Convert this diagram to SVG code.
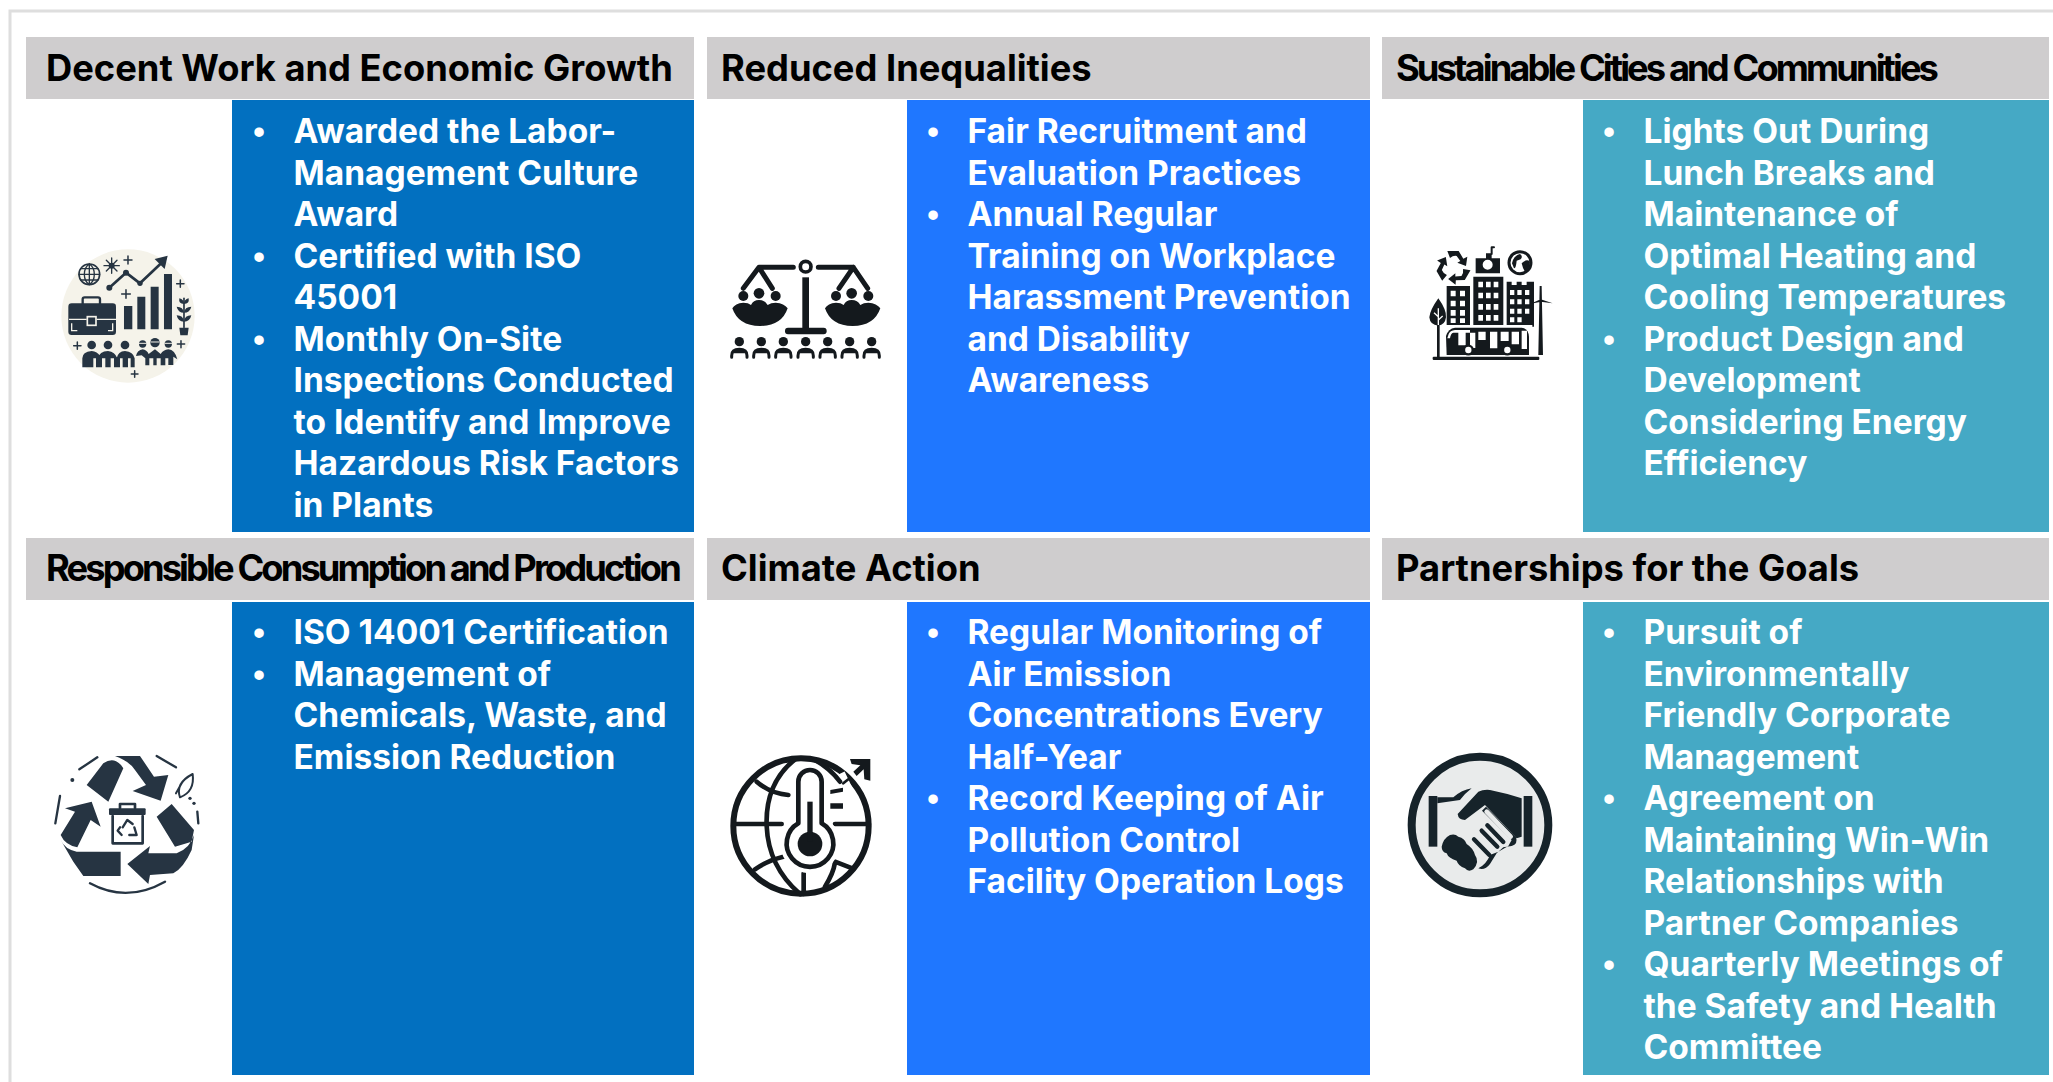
<svg xmlns="http://www.w3.org/2000/svg" width="2053" height="1082" viewBox="0 0 2053 1082">
<style>
.hd{fill:#cfcdce}
.h{font-family:Inter,"Noto Sans",sans-serif;font-weight:700;font-size:36.3px;fill:#000}
.tight{letter-spacing:-2.9px}
.b{font-family:Inter,"Noto Sans",sans-serif;font-weight:700;font-size:33.5px;fill:#fff}
.u{font-family:"Liberation Sans",sans-serif;font-weight:700;font-size:33px;fill:#fff;text-anchor:middle}
.c1{fill:#0270c0}.c2{fill:#1f77ff}.c3{fill:#45a9c5}
.d{fill:#263442}.s{fill:none;stroke:#263442;stroke-linecap:round;stroke-linejoin:round}
.k{fill:#14191d}.t{fill:none;stroke:#14191d;stroke-linecap:round;stroke-linejoin:round}
</style>
<rect width="2053" height="1082" fill="#fff"/>
<path d="M2053 11H10V1082" fill="none" stroke="#dedede" stroke-width="3"/>

<g id="decent-work">
<rect class="hd" x="26" y="37" width="668" height="62"/>
<rect class="c1" x="232" y="100" width="462" height="432"/>
<text class="h" x="46" y="81">Decent Work and Economic Growth</text>
<text class="u" x="259" y="142.500">•</text>
<text class="b"><tspan x="293.500" y="142.500">Awarded the Labor-</tspan><tspan x="293.500" y="184.500">Management Culture</tspan><tspan x="293.500" y="226">Award</tspan></text>
<text class="u" x="259" y="267.500">•</text>
<text class="b"><tspan x="293.500" y="267.500">Certified with ISO</tspan><tspan x="293.500" y="309">45001</tspan></text>
<text class="u" x="259" y="350.500">•</text>
<text class="b"><tspan x="293.500" y="350.500">Monthly On-Site</tspan><tspan x="293.500" y="392">Inspections Conducted</tspan><tspan x="293.500" y="433.500">to Identify and Improve</tspan><tspan x="293.500" y="475">Hazardous Risk Factors</tspan><tspan x="293.500" y="516.500">in Plants</tspan></text>
<g transform="translate(40 230) scale(.3333)">
<circle cx="264" cy="258" r="200" fill="#f5f3ea"/>
<circle class="s" cx="148" cy="133" r="31" stroke-width="5"/>
<path class="s" stroke-width="4" d="M148 102V164M117 133H179M122 116H174M122 150H174M148 102C128 115 128 151 148 164M148 102C168 115 168 151 148 164"/>
<circle class="d" cx="215" cy="107" r="9"/>
<path class="s" stroke-width="4" d="M215 84V130M192 107H238M199 91L231 123M231 91L199 123"/>
<path class="s" stroke-width="4.500" d="M264 78V102M252 90H276M258 179V205M245 192H271M421 150V172M410 161H432M112 336V358M101 347H123M423 332V353M412 342H434M284 422V442M274 432H294"/>
<path class="s" stroke-width="8" d="M208 173L258 128L300 160L365 98"/>
<circle class="d" cx="208" cy="173" r="9"/><circle class="d" cx="258" cy="128" r="9"/><circle class="d" cx="300" cy="160" r="8"/>
<path class="d" d="M383 77L374 117L344 87Z"/>
<path class="d" d="M252 228h25v70h-25zM292 200h24v98h-24zM332 170h24v128h-24zM372 132h24v166h-24z"/>
<path class="s" stroke-width="7" d="M128 222V208Q128 202 134 202H174Q180 202 180 208V222"/>
<rect class="d" x="85" y="220" width="143" height="95" rx="10"/>
<path fill="none" stroke="#f5f3ea" stroke-width="4" d="M87 268H140M170 268H228M95 280V302H112M218 280V302H204"/>
<rect x="142" y="260" width="26" height="26" fill="#263442" stroke="#f5f3ea" stroke-width="5"/>
<path class="s" stroke-width="5" d="M432 292V205"/>
<path class="d" d="M432 222Q415 222 418 205Q432 208 432 222ZM432 222Q449 222 446 205Q432 208 432 222ZM432 248Q414 248 410 230Q430 230 432 248ZM432 248Q450 248 454 230Q434 230 432 248ZM432 275Q414 275 410 256Q430 256 432 275ZM432 275Q450 275 454 256Q434 256 432 275ZM418 293H446L443 316H421Z"/>
<circle class="d" cx="155" cy="345" r="13"/><circle class="d" cx="204" cy="345" r="13"/><circle class="d" cx="255" cy="345" r="13"/>
<path class="d" d="M127 412V385Q127 365 155 363Q172 365 180 378V412H168V385H160V412ZM174 412V385Q178 364 204 363Q225 365 232 385V412H222V385H212V412H196V385H186V412ZM230 412V385Q234 364 255 363Q280 365 284 385V412H272V385H264V412H248V385H240V412Z"/>
<circle class="d" cx="308" cy="342" r="11"/><circle class="d" cx="345" cy="338" r="14"/><circle class="d" cx="385" cy="342" r="11"/>
<path class="d" d="M288 378Q292 360 308 358Q320 360 326 372L345 358L362 372Q370 360 385 358Q405 360 412 388L400 380V405H385V385H376V406H362V385H350V406H340V385H328V406H316V385L305 376Z"/>
<path fill="none" stroke="#f5f3ea" stroke-width="3" d="M296 340H320M332 336H358M374 340H396"/>
</g>
</g>

<g id="reduced-inequalities">
<rect class="hd" x="707" y="37" width="663" height="62"/>
<rect class="c2" x="907" y="100" width="463" height="432"/>
<text class="h" x="721" y="81">Reduced Inequalities</text>
<text class="u" x="933" y="142.500">•</text>
<text class="b"><tspan x="967.500" y="142.500">Fair Recruitment and</tspan><tspan x="967.500" y="184.500">Evaluation Practices</tspan></text>
<text class="u" x="933" y="226">•</text>
<text class="b"><tspan x="967.500" y="226">Annual Regular</tspan><tspan x="967.500" y="267.500">Training on Workplace</tspan><tspan x="967.500" y="309">Harassment Prevention</tspan><tspan x="967.500" y="350.500">and Disability</tspan><tspan x="967.500" y="392">Awareness</tspan></text>
<g transform="translate(715 240) scale(.3333)">
<path class="t" stroke-width="15" stroke-linecap="butt" d="M235 82H132L85 145M132 82L172 145M310 82H415L372 145M415 82L458 145"/>
<circle class="t" cx="272" cy="80" r="16" stroke-width="11"/>
<rect class="k" x="262" y="112" width="20" height="155"/>
<rect class="k" x="210" y="263" width="125" height="20" rx="9"/>
<g id="pan">
<circle class="k" cx="85" cy="168" r="15"/><circle class="k" cx="132" cy="160" r="16"/><circle class="k" cx="182" cy="168" r="15"/>
<path class="k" d="M52 205Q60 190 85 188Q100 188 108 195Q115 180 132 180Q150 180 158 195Q168 188 182 188Q208 190 218 205Q200 258 135 258Q70 258 52 205Z"/>
</g>
<use href="#pan" x="278"/>
<g id="per"><circle class="k" cx="73" cy="305" r="14"/><path class="t" stroke-width="9" stroke-linecap="butt" d="M50 352V347Q50 328 73 328Q96 328 96 347V352"/><path class="k" d="M55 340Q60 325 73 325Q86 325 91 340Z"/></g>
<use href="#per" x="66"/><use href="#per" x="132"/><use href="#per" x="199"/><use href="#per" x="265"/><use href="#per" x="331"/><use href="#per" x="397"/>
</g>
</g>

<g id="sustainable-cities">
<rect class="hd" x="1382" y="37" width="667" height="62"/>
<rect class="c3" x="1583" y="100" width="466" height="432"/>
<text class="h tight" x="1396" y="81">Sustainable Cities and Communities</text>
<text class="u" x="1609" y="142.500">•</text>
<text class="b"><tspan x="1643.500" y="142.500">Lights Out During</tspan><tspan x="1643.500" y="184.500">Lunch Breaks and</tspan><tspan x="1643.500" y="226">Maintenance of</tspan><tspan x="1643.500" y="267.500">Optimal Heating and</tspan><tspan x="1643.500" y="309">Cooling Temperatures</tspan></text>
<text class="u" x="1609" y="350.500">•</text>
<text class="b"><tspan x="1643.500" y="350.500">Product Design and</tspan><tspan x="1643.500" y="392">Development</tspan><tspan x="1643.500" y="433.500">Considering Energy</tspan><tspan x="1643.500" y="475">Efficiency</tspan></text>
<g transform="translate(1410 230) scale(.3333)">
<path id="arrow3" class="k" d="M112 63H146L160 86L172 80L168 108L142 98L151 93L140 78Q130 76 120 84Z"/>
<use href="#arrow3" transform="rotate(120 130 112)"/>
<use href="#arrow3" transform="rotate(240 130 112)"/>
<path class="k" fill-rule="evenodd" d="M197 85H228V70H245V85H270V130H197ZM233 89A15 15 0 1 0 233 119A15 15 0 1 0 233 89Z"/>
<path class="t" stroke-width="6" d="M245 72V52H252"/>
<circle cx="330" cy="98" r="33" fill="#fff" stroke="#14191d" stroke-width="9"/>
<path class="k" d="M306 100Q310 78 330 72Q340 78 332 88L320 92Q318 115 312 115ZM335 100Q350 85 360 95Q360 115 345 125Q338 115 335 100Z"/>
<path class="k" d="M190 140H280V285H190ZM110 168H180V290H110ZM290 155H305V165H320V155H335V165H350V155H372V290H290Z"/>
<path fill="#fff" d="M205 155h14v17h-14zM228 155h14v17h-14zM251 155h14v17h-14zM205 188h14v17h-14zM228 188h14v17h-14zM251 188h14v17h-14zM205 222h14v17h-14zM228 222h14v17h-14zM251 222h14v17h-14zM205 255h14v17h-14zM228 255h14v17h-14zM251 255h14v17h-14zM122 182h15v17h-15zM150 182h15v17h-15zM122 212h15v17h-15zM150 212h15v17h-15zM122 240h15v17h-15zM150 240h15v17h-15zM122 265h15v14h-15zM150 265h15v14h-15zM300 180h13v15h-13zM322 180h13v15h-13zM345 180h13v15h-13zM300 208h13v15h-13zM322 208h13v15h-13zM345 208h13v15h-13zM300 236h13v15h-13zM322 236h13v15h-13zM345 236h13v15h-13zM300 262h13v15h-13zM322 262h13v15h-13z"/>
<path class="k" d="M85 205Q110 240 108 262Q105 285 85 287Q60 285 58 262Q60 240 85 205ZM81 285H89V382H81Z"/>
<path fill="none" stroke="#fff" stroke-width="4" d="M85 235V285M85 260L72 248M85 270L98 258"/>
<path class="k" d="M389 168H395L399 375H385ZM392 215L360 222L392 208L428 220Z"/>
<rect x="105" y="285" width="262" height="90" fill="#fff"/>
<path class="k" d="M108 318Q115 295 135 293H335Q355 295 357 320V375H110Z"/>
<path fill="#fff" d="M116 312Q120 302 135 300H180V308H130Q122 310 120 325H112ZM145 308h22v38h-22zM180 308h16v46h-16zM205 305h22v25h-22zM240 305h22v50h-22zM272 305h24v28h-24zM305 305h22v38h-22zM335 302h16v55h-16z"/>
<circle cx="175" cy="360" r="13" fill="#fff" stroke="#14191d" stroke-width="7"/>
<circle cx="292" cy="360" r="13" fill="#fff" stroke="#14191d" stroke-width="7"/>
<rect class="k" x="68" y="380" width="320" height="10" rx="3"/>
</g>
</g>

<g id="responsible-consumption">
<rect class="hd" x="26" y="538" width="668" height="62"/>
<rect class="c1" x="232" y="602" width="462" height="473"/>
<text class="h tight" x="46" y="581">Responsible Consumption and Production</text>
<text class="u" x="259" y="643.800">•</text>
<text class="b"><tspan x="293.500" y="643.800">ISO 14001 Certification</tspan></text>
<text class="u" x="259" y="685.500">•</text>
<text class="b"><tspan x="293.500" y="685.500">Management of</tspan><tspan x="293.500" y="727.300">Chemicals, Waste, and</tspan><tspan x="293.500" y="768.500">Emission Reduction</tspan></text>
<g transform="translate(40 740) scale(.3333)">
<path class="d" d="M140 135L190 70Q225 45 250 85L205 185ZM225 48H300L342 110L385 105L362 182L278 153L318 135L285 90Q270 65 225 48ZM395 192L350 230L405 320L455 305L462 270ZM262 372L330 318L325 340H410Q450 325 462 285L455 330Q430 385 400 400L330 405L325 432ZM62 300Q75 328 110 335H242V408H130L100 365ZM62 285L105 215L75 205L155 185L182 260L152 240L112 322Q75 315 62 285Z"/>
<path class="s" stroke-width="7" d="M118 88L172 52M350 48L408 82M60 168L46 250M150 430Q260 490 375 425M472 215L475 250"/>
<circle class="d" cx="97" cy="120" r="6"/><circle class="d" cx="450" cy="175" r="5"/><circle class="d" cx="462" cy="190" r="5"/>
<path class="s" stroke-width="6" d="M408 160L425 130M420 172Q405 130 458 102Q465 155 420 172Z"/>
<path class="s" stroke-width="8" d="M240 205V192H285V205M218 228V310H308V228"/>
<rect class="d" x="207" y="205" width="110" height="20" rx="3"/>
<path class="s" stroke-width="7" d="M248 262L262 240L278 252M283 262L290 285L268 285M245 285L233 272L240 262"/>
</g>
</g>

<g id="climate-action">
<rect class="hd" x="707" y="538" width="663" height="62"/>
<rect class="c2" x="907" y="602" width="463" height="473"/>
<text class="h" x="721" y="581">Climate Action</text>
<text class="u" x="933" y="643.800">•</text>
<text class="b"><tspan x="967.500" y="643.800">Regular Monitoring of</tspan><tspan x="967.500" y="685.500">Air Emission</tspan><tspan x="967.500" y="727.300">Concentrations Every</tspan><tspan x="967.500" y="768.500">Half-Year</tspan></text>
<text class="u" x="933" y="810">•</text>
<text class="b"><tspan x="967.500" y="810">Record Keeping of Air</tspan><tspan x="967.500" y="851.500">Pollution Control</tspan><tspan x="967.500" y="893">Facility Operation Logs</tspan></text>
<g transform="translate(715 740) scale(.3333)">
<circle class="t" cx="258" cy="258" r="203" stroke-width="18"/>
<path stroke="#fff" stroke-width="24" d="M378 100L402 150"/>
<path class="t" stroke-width="14" stroke-linecap="butt" d="M58 252H200M360 252H462M125 125Q165 160 220 165M120 388Q160 360 205 350M360 365L412 385M240 58Q150 130 155 258Q160 380 255 462M300 60Q345 85 375 125M330 440Q355 400 360 368M266 400V462"/>
<path fill="#fff" stroke="#fff" stroke-width="38" stroke-linejoin="round" d="M250 250V125A35 35 0 0 1 320 125V250A70 70 0 1 1 250 250Z"/>
<path class="t" stroke-width="14" d="M250 250V125A35 35 0 0 1 320 125V250A70 70 0 1 1 250 250Z"/>
<circle class="k" cx="285" cy="312" r="37"/>
<rect class="k" x="277" y="185" width="16" height="120"/>
<path class="k" d="M346 150L384 143L384 155L346 162ZM346 190H384V206H346Z"/>
<path class="k" d="M405 57H466V122L448 118L446 88L425 108L415 95L436 76L410 72Z"/>
<path class="t" stroke-width="8" d="M385 130L400 118"/>
</g>
</g>

<g id="partnerships">
<rect class="hd" x="1382" y="538" width="667" height="62"/>
<rect class="c3" x="1583" y="602" width="466" height="473"/>
<text class="h" x="1396" y="581">Partnerships for the Goals</text>
<text class="u" x="1609" y="643.800">•</text>
<text class="b"><tspan x="1643.500" y="643.800">Pursuit of</tspan><tspan x="1643.500" y="685.500">Environmentally</tspan><tspan x="1643.500" y="727.300">Friendly Corporate</tspan><tspan x="1643.500" y="768.500">Management</tspan></text>
<text class="u" x="1609" y="810">•</text>
<text class="b"><tspan x="1643.500" y="810">Agreement on</tspan><tspan x="1643.500" y="851.500">Maintaining Win-Win</tspan><tspan x="1643.500" y="893">Relationships with</tspan><tspan x="1643.500" y="934.500">Partner Companies</tspan></text>
<text class="u" x="1609" y="976">•</text>
<text class="b"><tspan x="1643.500" y="976">Quarterly Meetings of</tspan><tspan x="1643.500" y="1017.500">the Safety and Health</tspan><tspan x="1643.500" y="1059">Committee</tspan></text>
<g transform="translate(1390 740) scale(.3333)">
<circle cx="270" cy="255" r="205" fill="#e9ebeb" stroke="#16232a" stroke-width="24"/>
<rect x="116" y="168" width="26" height="152" fill="#16232a"/>
<rect x="401" y="168" width="26" height="152" fill="#16232a"/>
<path fill="#16232a" d="M142 172H190Q215 150 245 145Q225 160 210 180L142 190Z"/>
<path fill="#16232a" d="M395 175V290L380 295L285 195L225 240Q205 240 203 222L265 155Q280 148 300 150Q350 160 395 175Z"/>
<path fill="#16232a" d="M276 212L288 200L378 292Q385 312 365 318L340 322L320 340L300 372Q285 392 265 385Q290 372 300 345L325 335L355 318L365 300Z"/>
<path fill="none" stroke="#e9ebeb" stroke-width="14" stroke-linecap="round" d="M290 215L362 290"/>
<path fill="none" stroke="#16232a" stroke-width="13" stroke-linecap="round" d="M275 272L322 320M252 298L298 345M292 256L340 306"/>
<path fill="#16232a" d="M155 320Q160 295 180 285Q195 280 205 290Q225 295 230 312Q250 325 255 345Q270 365 250 388Q235 398 225 385Q205 378 200 362Q175 355 170 340Q155 335 155 320Z"/>
</g>
</g>
</svg>
